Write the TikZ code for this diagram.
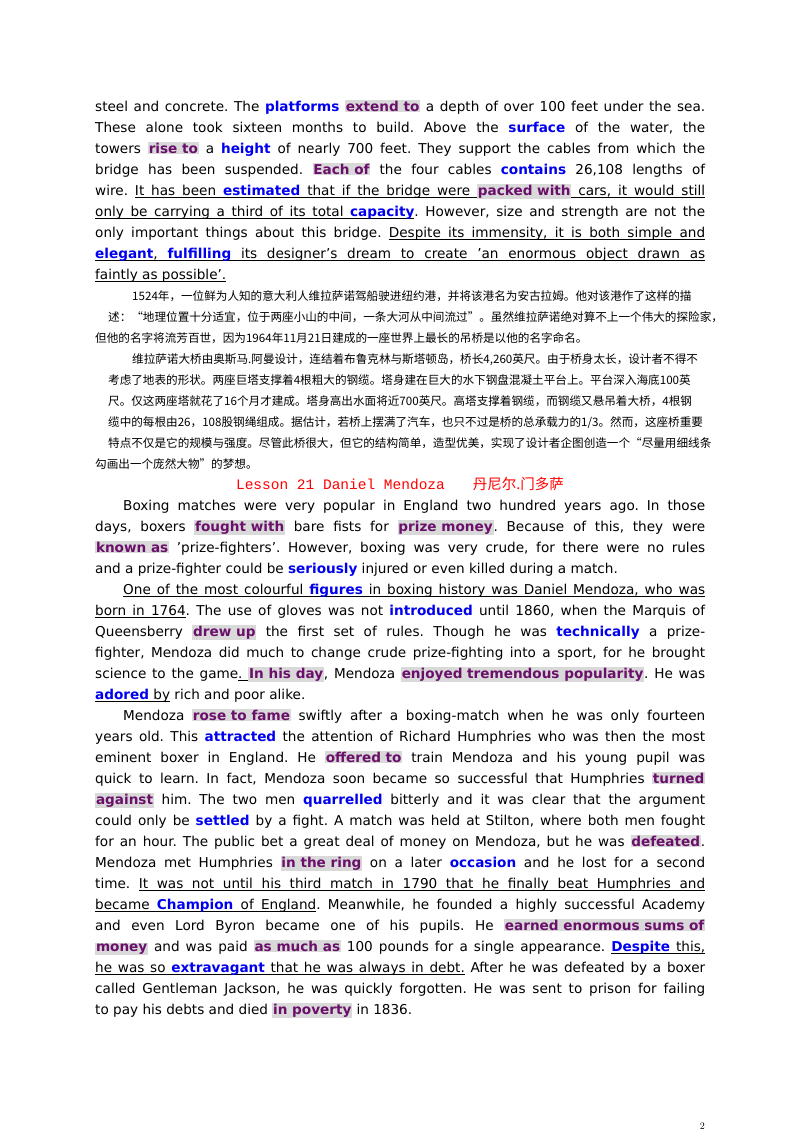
\documentclass[tikz,border=0pt]{standalone}
\usepackage{fontspec}
\setmainfont{DejaVu Sans}
\newfontfamily\cjk{Noto Sans CJK SC}
\newfontfamily\mono{Liberation Mono}
\definecolor{hlfg}{HTML}{6A106A}
\definecolor{hlbg}{HTML}{D9D9D9}
\definecolor{bwc}{HTML}{0000EE}
\definecolor{ttl}{HTML}{FF0000}
\frenchspacing
\newcommand\hl[1]{{\setlength\fboxsep{0.8pt}\colorbox{hlbg}{\textcolor{hlfg}{\bfseries #1}}}}
\newcommand\bw[1]{\textcolor{bwc}{\bfseries #1}}
\def\ulend{\ulend}
\newbox\ulbox
\def\ulrule{\leaders\hrule height -2.2pt depth 3pt}
\def\uline#1{\ulA#1 \ulend\ulstop}
\def\ulA#1 #2\ulstop{\setbox\ulbox\hbox{#1}\ulrule\hskip\wd\ulbox\hskip-\wd\ulbox\box\ulbox\ifx\ulend#2\else\ulrule\hskip\fontdimen2\font plus\fontdimen3\font minus\fontdimen4\font\ulA#2\ulstop\fi}
\newcommand\cjkglue{\XeTeXinterchartokenstate=1
  \XeTeXinterchartoks 1 1 {\hskip0pt plus 4pt}\XeTeXinterchartoks 1 2 {\hskip0pt plus 4pt}
  \XeTeXinterchartoks 1 3 {\hskip0pt plus 4pt}\XeTeXinterchartoks 2 1 {\hskip0pt plus 4pt}
  \XeTeXinterchartoks 3 1 {\hskip0pt plus 4pt}\XeTeXinterchartoks 0 1 {\hskip0pt plus 4pt}
  \XeTeXinterchartoks 1 0 {\hskip0pt plus 4pt}\XeTeXinterchartoks 3 0 {\hskip0pt plus 4pt}
  \XeTeXinterchartoks 0 3 {\hskip0pt plus 4pt}\XeTeXinterchartoks 3 3 {\hskip0pt plus 4pt}
  \XeTeXinterchartoks 0 2 {\hskip0pt plus 4pt}\XeTeXinterchartoks 3 2 {\hskip0pt plus 4pt}}
\newcommand\J[2]{\node[anchor=base west,inner sep=0] at (95,#1) {\fontsize{13.6}{21}\selectfont\hbox to 610pt{#2}};}
\newcommand\N[2]{\node[anchor=base west,inner sep=0] at (95,#1) {\fontsize{13.6}{21}\selectfont #2};}
\newcommand\C[2]{\node[anchor=base west,inner sep=0] at (95,#1) {\cjk\fontsize{11.6}{21}\selectfont\cjkglue\hbox to 610pt{#2}};}
\newcommand\CN[2]{\node[anchor=base west,inner sep=0] at (95,#1) {\cjk\fontsize{11.6}{21}\selectfont #2};}
\newcommand\ind{\hspace*{28pt}}
\begin{document}
\begin{tikzpicture}[x=1pt,y=-1pt]
\useasboundingbox[fill=white] (0,0) rectangle (800,1132);
\J{111}{steel and concrete. The \bw{platforms} \hl{extend to} a depth of over 100 feet under the sea.}
\J{132}{These alone took sixteen months to build. Above the \bw{surface} of the water, the}
\J{153}{towers \hl{rise to} a \bw{height} of nearly 700 feet. They support the cables from which the}
\J{174}{bridge has been suspended. \hl{Each of} the four cables \bw{contains} 26,108 lengths of}
\J{195}{wire. \uline{It has been {\bw{estimated}} that if the bridge were {\hl{packed with}} cars, it would still}}
\J{216}{\uline{only be carrying a third of its total {\bw{capacity}}}. However, size and strength are not the}
\J{237}{only important things about this bridge. \uline{Despite its immensity, it is both simple and}}
\J{258}{\uline{{\bw{elegant}}, {\bw{fulfilling}} its designer's dream to create 'an enormous object drawn as}}
\N{279}{\uline{faintly as possible'.}}
\C{300}{\hspace*{24pt}1524年，一位鲜为人知的意大利人维拉萨诺驾船驶进纽约港，并将该港名为安古拉姆。他对该港作了这样的描}
\C{321}{述：“地理位置十分适宜，位于两座小山的中间，一条大河从中间流过”。虽然维拉萨诺绝对算不上一个伟大的探险家，}
\CN{342}{但他的名字将流芳百世，因为1964年11月21日建成的一座世界上最长的吊桥是以他的名字命名。}
\C{363}{\hspace*{24pt}维拉萨诺大桥由奥斯马.阿曼设计，连结着布鲁克林与斯塔顿岛，桥长4,260英尺。由于桥身太长，设计者不得不}
\C{384}{考虑了地表的形状。两座巨塔支撑着4根粗大的钢缆。塔身建在巨大的水下钢盘混凝土平台上。平台深入海底100英}
\C{405}{尺。仅这两座塔就花了16个月才建成。塔身高出水面将近700英尺。高塔支撑着钢缆，而钢缆又悬吊着大桥，4根钢}
\C{426}{缆中的每根由26，108股钢绳组成。据估计，若桥上摆满了汽车，也只不过是桥的总承载力的1/3。然而，这座桥重要}
\C{447}{特点不仅是它的规模与强度。尽管此桥很大，但它的结构简单，造型优美，实现了设计者企图创造一个“尽量用细线条}
\CN{468}{勾画出一个庞然大物”的梦想。}
\node[anchor=base,inner sep=0,text=ttl] (title) at (400,489) {\mono\fontsize{14.5}{16}\selectfont Lesson 21 Daniel Mendoza\hspace{28pt}{\cjk 丹尼尔.门多萨}};
\J{510}{\ind Boxing matches were very popular in England two hundred years ago. In those}
\J{531}{days, boxers \hl{fought with} bare fists for \hl{prize money}. Because of this, they were}
\J{552}{\hl{known as} 'prize-fighters'. However, boxing was very crude, for there were no rules}
\N{573}{and a prize-fighter could be \bw{seriously} injured or even killed during a match.}
\J{594}{\ind\uline{One of the most colourful {\bw{figures}} in boxing history was Daniel Mendoza, who was}}
\J{615}{\uline{born in 1764}. The use of gloves was not \bw{introduced} until 1860, when the Marquis of}
\J{636}{Queensberry \hl{drew up} the first set of rules. Though he was \bw{technically} a prize-}
\J{657}{fighter, Mendoza did much to change crude prize-fighting into a sport, for he brought}
\J{678}{science to the game\uline{. {\hl{In his day}}}, Mendoza \uline{{\hl{enjoyed tremendous popularity}}}. He was}
\N{699}{\uline{{\bw{adored}} by} rich and poor alike.}
\J{720}{\ind Mendoza \hl{rose to fame} swiftly after a boxing-match when he was only fourteen}
\J{741}{years old. This \bw{attracted} the attention of Richard Humphries who was then the most}
\J{762}{eminent boxer in England. He \hl{offered to} train Mendoza and his young pupil was}
\J{783}{quick to learn. In fact, Mendoza soon became so successful that Humphries \hl{turned}}
\J{804}{\hl{against} him. The two men \bw{quarrelled} bitterly and it was clear that the argument}
\J{825}{could only be \bw{settled} by a fight. A match was held at Stilton, where both men fought}
\J{846}{for an hour. The public bet a great deal of money on Mendoza, but he was \hl{defeated}.}
\J{867}{Mendoza met Humphries \hl{in the ring} on a later \bw{occasion} and he lost for a second}
\J{888}{time. \uline{It was not until his third match in 1790 that he finally beat Humphries and}}
\J{909}{\uline{became {\bw{Champion}} of England}. Meanwhile, he founded a highly successful Academy}
\J{930}{and even Lord Byron became one of his pupils. He \hl{earned enormous sums of}}
\J{951}{\hl{money} and was paid \hl{as much as} 100 pounds for a single appearance. \uline{{\bw{Despite}} this,}}
\J{972}{\uline{he was so {\bw{extravagant}} that he was always in debt.} After he was defeated by a boxer}
\J{993}{called Gentleman Jackson, he was quickly forgotten. He was sent to prison for failing}
\N{1014}{to pay his debts and died \hl{in poverty} in 1836.}
\node[anchor=base east,inner sep=0] (pg) at (705,1129) {\fontfamily{lmr}\fontsize{10}{12}\selectfont 2};
\end{tikzpicture}
\end{document}
